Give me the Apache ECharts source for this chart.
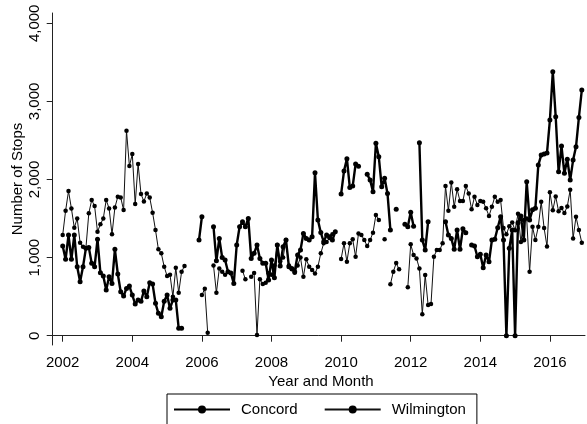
<!DOCTYPE html>
<html>
<head>
<meta charset="utf-8">
<script src="https://cdn.jsdelivr.net/npm/echarts@6/dist/echarts.min.js"></script>
<style>
  html, body { margin: 0; padding: 0; background: #fff; }
  #chart { width: 587px; height: 424px; }
</style>
</head>
<body>
<div id="chart"></div>
<script>
// Monthly stop counts, January 2002 to December 2016 (12 values per row = one year).
const startYear = 2002;

const concord = [
  1148, 978, 1289, 978, 1289, 883, 691, 883, 1119, 1131, 927, 883,
  1234, 806, 764, 585, 755, 670, 1106, 790, 563, 508, 606, 636,
  521, 406, 457, 440, 572, 499, 678, 661, 415, 287, 243, 440,
  521, 350, 457, 457, 94, 94, null, null, null, null, null, 1225,
  1523, null, null, null, 1395, 960, 1246, 1000, 969, 819, 802, 670,
  1161, 1395, 1459, 1395, 1502, 990, 1055, 1161, 990, 927, 927, 713,
  969, 742, 1161, 892, 1139, 1225, 883, 862, 819, 1033, 1097, 1310,
  1246, 1225, 1267, 2087, 1481, 1320, 1203, 1289, 1267, 1225, 1332, null,
  1814, 2108, 2266, 1899, 1916, 2198, 2170, null, null, 2066, 1993, 1843,
  2463, 2291, 1907, 2015, 1822, 1353, null, 1620, null, null, 1426, 1395,
  1580, 1400, null, 2470, 1225, 1097, 1459, null, null, null, null, null,
  1459, 1289, 1246, 1106, 1353, 1106, 1370, 1319, null, 1161, 1148, 1011,
  1042, 870, 1033, 947, 1225, 1234, 1382, 1523, 1225, 0, 1119, 1353,
  0, 1446, 1532, 1225, 1971, 1481, 1612, 1633, 2185, 2313, 2326, 2340,
  2761, 3379, 2803, 2099, 2428, 2079, 2260, 1993, 2249, 2419, 2795, 3145
];

const wilmington = [
  1289, 1600, 1852, 1630, 1382, 1502, 1190, 1139, 1120, 1567, 1737, 1660,
  1331, 1426, 1502, 1737, 1630, 1298, 1642, 1779, 1771, 1609, 2624, 2172,
  2326, 1686, 2198, 1814, 1720, 1822, 1771, 1575, 1353, 1106, 1055, 883,
  764, 780, 500, 870, 550, 819, 892, null, null, null, null, null,
  521, 602, 38, null, 900, 550, 860, 820, 780, null, null, null,
  null, null, 832, 722, null, 756, 802, 10, 722, 662, 677, 800,
  780, 900, 1161, 950, 1000, 1225, 900, 850, 806, 900, 1000, 755,
  978, 883, 841, 798, 883, 1055, 1183, 1200, 1250, 1300, null, null,
  982, 1183, 948, 1183, 1234, 1012, 1310, 1289, 1225, 1148, 1225, 1319,
  1546, 1481, null, 1234, null, 658, 819, 930, 850, null, null, 619,
  1170, 1033, 990, 862, 274, 777, 393, 406, 1011, 1097, 1097, 1183,
  1916, 1600, 1963, 1651, 1874, 1724, 1724, 1916, 1822, 1618, 1779, 1673,
  1724, 1716, 1631, 1532, 1651, 1779, 1716, 1737, 1380, 1300, 1400, 1450,
  1350, 1560, 1200, 1480, 1500, 819, 1395, 1225, 1395, 1716, 1378, 1143,
  1836, 1605, 1784, 1592, 1634, 1570, 1655, 1868, 1246, 1523, 1353, 1191
];

const xTicks = [2002, 2004, 2006, 2008, 2010, 2012, 2014, 2016];
const yTicks = [0, 1000, 2000, 3000, 4000];

const FONT = '"Liberation Sans", Arial, sans-serif';

function toPoints(values) {
  return values.map((v, i) => [startYear + i / 12, v]);
}

const chart = echarts.init(document.getElementById('chart'), null, { renderer: 'canvas' });

chart.setOption({
  animation: false,
  backgroundColor: '#ffffff',
  grid: { left: 52.7, right: 2, top: 13, bottom: 79, containLabel: false },
  xAxis: {
    type: 'value',
    min: 2001.7126,
    max: 2017.0086,
    axisLine: { show: true, lineStyle: { color: '#222', width: 1 } },
    axisTick: { show: true, length: 6, customValues: xTicks, lineStyle: { color: '#222' } },
    axisLabel: {
      customValues: xTicks,
      margin: 10,
      color: '#000',
      fontFamily: FONT,
      fontSize: 15,
      formatter: v => String(v)
    },
    splitLine: { show: false }
  },
  yAxis: {
    type: 'value',
    min: -119,
    max: 4132,
    axisLine: { show: true, lineStyle: { color: '#222', width: 1 } },
    axisTick: { show: true, length: 6, customValues: yTicks, lineStyle: { color: '#222' } },
    axisLabel: {
      customValues: yTicks,
      rotate: 90,
      margin: 10,
      color: '#000',
      fontFamily: FONT,
      fontSize: 15,
      formatter: v => v.toLocaleString('en-US')
    },
    splitLine: { show: false }
  },
  legend: {
    left: 167,
    top: 394,
    orient: 'horizontal',
    itemWidth: 56,
    itemHeight: 10,
    itemGap: 26,
    padding: [8, 11, 12, 6],
    borderColor: '#000',
    borderWidth: 1,
    textStyle: { fontFamily: FONT, fontSize: 15, color: '#000', padding: [0, 0, 0, 6] },
    data: ['Concord', 'Wilmington']
  },
  graphic: [
    {
      type: 'text',
      x: 321, y: 382,
      style: { text: 'Year and Month', font: '15px ' + FONT, fill: '#000', textAlign: 'center', textVerticalAlign: 'middle' }
    },
    {
      type: 'text',
      x: 18, y: 179, rotation: Math.PI / 2,
      style: { text: 'Number of Stops', font: '15px ' + FONT, fill: '#000', textAlign: 'center', textVerticalAlign: 'middle' }
    }
  ],
  series: [
    {
      name: 'Concord',
      type: 'line',
      data: toPoints(concord),
      connectNulls: false,
      showAllSymbol: true,
      symbol: 'circle',
      symbolSize: 5,
      lineStyle: { color: '#000', width: 2.4 },
      itemStyle: { color: '#000' },
      z: 3
    },
    {
      name: 'Wilmington',
      type: 'line',
      data: toPoints(wilmington),
      connectNulls: false,
      showAllSymbol: true,
      symbol: 'circle',
      symbolSize: 4.5,
      lineStyle: { color: '#111', width: 1 },
      itemStyle: { color: '#000' },
      z: 2
    }
  ]
});
</script>
</body>
</html>
